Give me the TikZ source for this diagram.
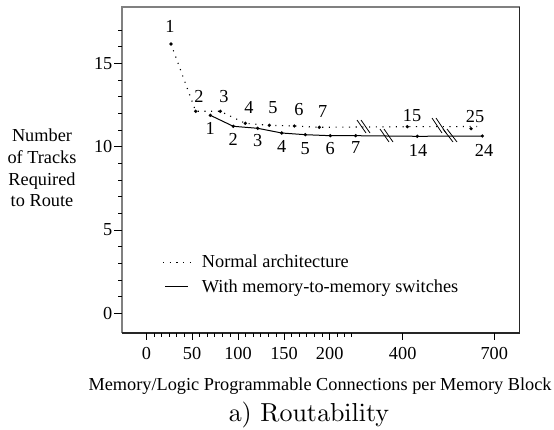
\documentclass[tikz,border=0pt]{standalone}
\usepackage{fontspec}
\newfontfamily\tms{Liberation Serif}
\font\capf=cmr10 at 26pt
\begin{document}
\begin{tikzpicture}[x=1pt,y=-1pt,
  txt/.style={font=\tms\fontsize{18.3}{21.7}\selectfont, inner sep=0pt},
  pt/.style={circle, fill=black, inner sep=0pt, minimum size=3.6pt},
  dotline/.style={line width=1.1pt, dash pattern=on 1.1pt off 5.6pt},
  solidline/.style={line width=1pt},
  brk/.style={line width=0.8pt},
  tick/.style={line width=0.9pt}]
\useasboundingbox (0,0) rectangle (554,430);
% frame
\draw[line width=1.6pt, black!50] (122,333) -- (122,7) -- (519.5,7);
\draw[line width=1.4pt, black!85] (519.5,7) -- (519.5,333) -- (122,333);
% y ticks
\foreach \y in {63.3,146.7,230,313.3} \draw[tick] (114,\y) -- (122,\y);
\foreach \y in {30,46.7,80,96.7,113.3,130,163.3,180,196.7,213.3,246.7,263.3,280,296.7} \draw[tick] (118,\y) -- (122,\y);
\node[txt, anchor=east] (y15) at (112.5,63.3) {15};
\node[txt, anchor=east] (y10) at (112.5,146.7) {10};
\node[txt, anchor=east] (y5) at (112.5,230) {5};
\node[txt, anchor=east] (y0) at (112.5,313.3) {0};
% x ticks
\foreach \x in {146.5,192,238,284,329.7,402.7,494.3} \draw[tick] (\x,333) -- (\x,340);
\foreach \b in {146.5,192,238,284} \foreach \k in {1,...,5} \draw[tick] ({\b+\k*7.6},333) -- ({\b+\k*7.6},336.5);
\foreach \x in {337,344,351} \draw[tick] (\x,333) -- (\x,336.5);
\node[txt] (x0) at (146.5,354) {0};
\node[txt] (x50) at (192,354) {50};
\node[txt] (x100) at (238,354) {100};
\node[txt] (x150) at (284,354) {150};
\node[txt] (x200) at (329.7,354) {200};
\node[txt] (x400) at (402.7,354) {400};
\node[txt] (x700) at (494.3,354) {700};
% axis labels
\node[txt, anchor=base] (xl) at (320,390) {Memory/Logic Programmable Connections per Memory Block};
\node[txt, align=center] (yl) at (42,168) {Number\\of Tracks\\Required\\to Route};
\node[inner sep=0pt, anchor=base, font=\capf] (cap) at (309,421.5) {a) Routability};
% normal architecture (dotted)
\node[pt] (a1) at (171,44) {};
\node[pt] (a2) at (195.7,111.3) {};
\node[pt] (a3) at (220.3,111.3) {};
\node[pt] (a4) at (245.3,123.3) {};
\node[pt] (a5) at (269.3,125.3) {};
\node[pt] (a6) at (294.3,126) {};
\node[pt] (a7) at (319.3,127.3) {};
\node[pt] (a15) at (407.3,126.7) {};
\node[pt] (a25) at (471,128.7) {};
\coordinate (aend) at (477,126.5);
\draw[dotline] (a1.center) -- (a2.center) -- (a3.center) -- (a4.center) -- (a5.center) -- (a6.center) -- (a7.center) -- (a15.center) -- (aend);
\node[txt] (la1) at (170,26.7) {1};
\node[txt] (la2) at (199,96.7) {2};
\node[txt] (la3) at (224,96.7) {3};
\node[txt] (la4) at (249,107.3) {4};
\node[txt] (la5) at (273,107.3) {5};
\node[txt] (la6) at (299,110) {6};
\node[txt] (la7) at (322.7,111.7) {7};
\node[txt] (la15) at (412,116) {15};
\node[txt] (la25) at (475,116.7) {25};
% with memory-to-memory switches (solid)
\node[pt] (b1) at (210.3,115.3) {};
\node[pt] (b2) at (233.3,126.3) {};
\node[pt] (b3) at (257.7,128.3) {};
\node[pt] (b4) at (281.7,133) {};
\node[pt] (b5) at (305.3,134.7) {};
\node[pt] (b6) at (330.3,135.7) {};
\node[pt] (b7) at (355.7,135.7) {};
\node[pt] (b14) at (417.3,136.3) {};
\node[pt] (b24) at (482.3,136) {};
\draw[solidline] (b1.center) -- (b2.center) -- (b3.center) -- (b4.center) -- (b5.center) -- (b6.center) -- (b7.center) -- (b14.center) -- (b24.center);
\node[txt] (lb1) at (210.3,128.3) {1};
\node[txt] (lb2) at (233.3,139.3) {2};
\node[txt] (lb3) at (257.7,140.7) {3};
\node[txt] (lb4) at (281.7,146.7) {4};
\node[txt] (lb5) at (305.3,148.3) {5};
\node[txt] (lb6) at (330.3,148.3) {6};
\node[txt] (lb7) at (355.7,148) {7};
\node[txt] (lb14) at (418,150) {14};
\node[txt] (lb24) at (484,150) {24};
% axis breaks
\draw[brk] (357,120) -- (366,133) (361,120) -- (370,133);
\draw[brk] (380,129) -- (389,142) (384,129) -- (393,142);
\draw[brk] (432,118) -- (442,133) (436,118) -- (446,133);
\draw[brk] (443,129) -- (453,142) (447,129) -- (457,142);
% legend
\coordinate (ld1) at (163,262.7);
\coordinate (ld2) at (190,262.7);
\coordinate (ls1) at (165,286.7);
\coordinate (ls2) at (188,286.7);
\draw[dotline] (ld1) -- (ld2);
\draw[solidline] (ls1) -- (ls2);
\node[txt, anchor=base west] (leg1) at (201.7,267.3) {Normal architecture};
\node[txt, anchor=base west] (leg2) at (201.7,292.7) {With memory-to-memory switches};
\end{tikzpicture}
\end{document}
